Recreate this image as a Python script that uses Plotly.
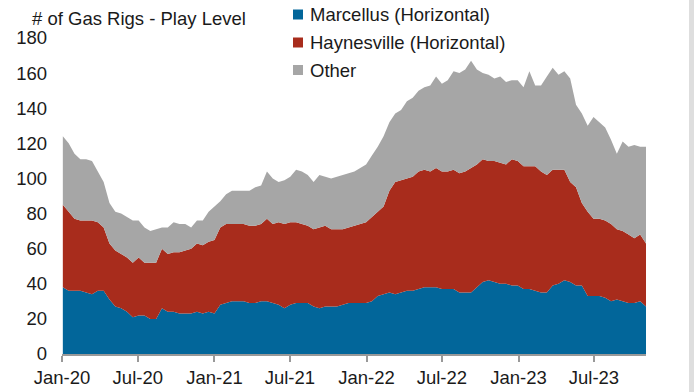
import pandas as pd
import plotly.graph_objects as go

# Weekly gas rig counts by play, sampled every other report week (Fridays)
dates = pd.date_range("2020-01-03", periods=101, freq="14D")

series_names = ["Marcellus (Horizontal)", "Haynesville (Horizontal)", "Other"]
series_colors = ["#02669A", "#A82C1C", "#A6A6A6"]

marcellus = [
    38, 36, 36, 36, 35, 34, 36, 36, 31, 27,
    26, 24, 21, 22, 22, 20, 20, 26, 24, 24,
    23, 23, 23, 24, 23, 24, 23, 28, 29, 30,
    30, 30, 29, 29, 30, 30, 29, 28, 26, 28,
    29, 29, 29, 27, 26, 27, 27, 27, 28, 29,
    29, 29, 29, 30, 33, 34, 35, 34, 35, 36,
    36, 37, 38, 38, 38, 37, 37, 37, 35, 35,
    35, 38, 41, 42, 41, 40, 40, 39, 39, 37,
    37, 36, 35, 35, 39, 40, 42, 41, 39, 39,
    33, 33, 33, 32, 30, 31, 30, 29, 29, 30,
    27,
]

haynesville = [
    47, 45, 41, 40, 41, 42, 39, 36, 32, 32,
    31, 31, 31, 33, 30, 32, 32, 34, 33, 34,
    35, 36, 37, 39, 39, 40, 42, 44, 45, 44,
    44, 44, 44, 44, 44, 47, 45, 47, 48, 47,
    46, 45, 44, 44, 46, 46, 44, 44, 43, 43,
    44, 45, 46, 48, 48, 50, 58, 64, 64, 64,
    65, 67, 67, 66, 68, 67, 67, 68, 68, 69,
    71, 70, 70, 68, 69, 69, 68, 72, 71, 70,
    70, 71, 69, 67, 66, 65, 63, 57, 56, 47,
    48, 44, 44, 44, 44, 40, 40, 39, 37, 38,
    36,
]

other = [
    39, 39, 37, 35, 35, 34, 29, 26, 23, 22,
    23, 23, 24, 21, 20, 18, 19, 12, 15, 17,
    16, 15, 12, 13, 14, 17, 19, 15, 17, 19,
    19, 19, 20, 22, 22, 27, 26, 23, 25, 26,
    30, 30, 29, 27, 30, 28, 29, 30, 31, 31,
    31, 32, 33, 35, 37, 40, 39, 39, 40, 44,
    45, 46, 47, 49, 52, 50, 52, 56, 57, 58,
    61, 54, 49, 49, 47, 49, 47, 45, 46, 45,
    54, 46, 49, 56, 58, 54, 56, 59, 47, 51,
    49, 58, 55, 53, 48, 43, 51, 50, 53, 50,
    55,
]

y_ticks = [0, 20, 40, 60, 80, 100, 120, 140, 160, 180]
x_ticks = pd.date_range("2020-01-01", "2023-07-01", freq="6MS")

FONT = "Liberation Sans, Arial, sans-serif"
TEXT = "#1a1a1a"
W, H = 694, 392
ML, MR, MT, MB = 62, 48, 38, 38
PW, PH = W - ML - MR, H - MT - MB


def px_x(px):
    return (px - ML) / PW


def px_y(py):
    return (H - MB - py) / PH


fig = go.Figure()
for name, color, vals in zip(series_names, series_colors, [marcellus, haynesville, other]):
    fig.add_trace(go.Scatter(
        x=dates, y=vals, name=name, mode="lines",
        stackgroup="rigs", line=dict(width=0, color=color),
        fillcolor=color, showlegend=False,
    ))

# Legend: square swatch + label per series
legend_rows = [14.5, 42.5, 70]
for name, color, cy in zip(series_names, series_colors, legend_rows):
    fig.add_shape(type="rect", xref="paper", yref="paper",
                  x0=px_x(293), x1=px_x(303), y0=px_y(cy + 5), y1=px_y(cy - 5),
                  fillcolor=color, line=dict(width=0))
    fig.add_annotation(text=name, xref="paper", yref="paper",
                       x=px_x(308), y=px_y(cy), xanchor="left", yanchor="middle",
                       showarrow=False, font=dict(family=FONT, size=18.5, color=TEXT))

# Axis title above the value axis
fig.add_annotation(text="# of Gas Rigs - Play Level", xref="paper", yref="paper",
                   x=px_x(30), y=px_y(18), xanchor="left", yanchor="middle",
                   showarrow=False, font=dict(family=FONT, size=18.5, color=TEXT))

# Light border strip on the right edge
fig.add_shape(type="rect", xref="paper", yref="paper",
              x0=px_x(689), x1=px_x(W + 2), y0=px_y(H + 2), y1=px_y(-2),
              fillcolor="#DEDEDE", line=dict(width=0), layer="below")

fig.update_layout(
    width=W, height=H,
    margin=dict(l=ML, r=MR, t=MT, b=MB, autoexpand=False),
    paper_bgcolor="white", plot_bgcolor="white",
    font=dict(family=FONT, size=18.5, color=TEXT),
    xaxis=dict(
        type="date", range=["2020-01-01", "2023-11-03"],
        tickvals=x_ticks, tickformat="%b-%y",
        ticks="outside", ticklen=6, tickwidth=1.5, tickcolor="#999999",
        showline=True, linecolor="#999999", linewidth=2,
        showgrid=False, zeroline=False, tickfont=dict(size=18.5),
        automargin=False,
    ),
    yaxis=dict(
        range=[0, 180], tickvals=y_ticks,
        showgrid=False, zeroline=False, showline=False,
        ticks="", ticklabelstandoff=14, tickfont=dict(size=18.5),
        automargin=False,
    ),
)

fig.write_html("out.html")
